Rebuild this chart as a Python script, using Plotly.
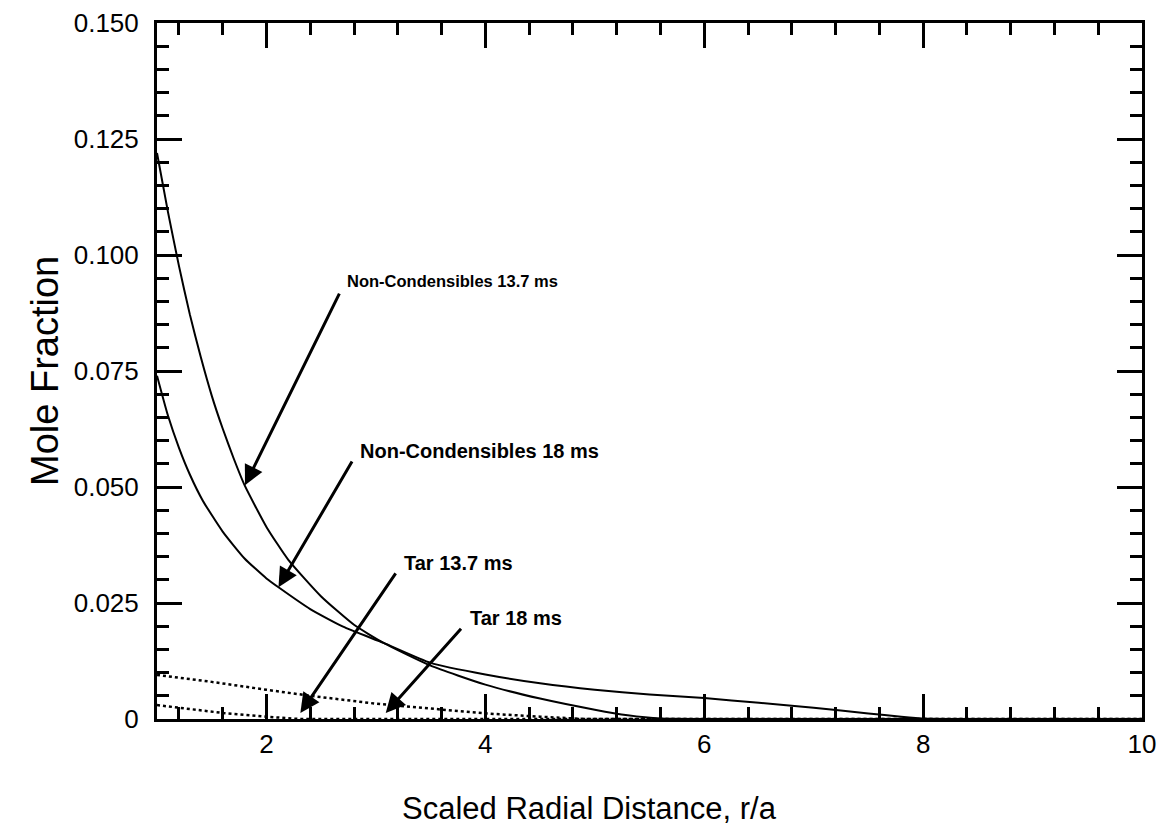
import plotly.graph_objects as go

# ---- data ----
nc137_x = [1.0, 1.1, 1.2, 1.3, 1.4, 1.5, 1.6, 1.7, 1.8, 2.0, 2.2, 2.5, 2.8, 3.07, 3.5, 4.0, 4.5, 5.0, 5.3, 5.6, 6.0, 8.0, 10.0]
nc137_y = [0.122, 0.1093, 0.0977, 0.0872, 0.0780, 0.0697, 0.0626, 0.0562, 0.0504, 0.0414, 0.0343, 0.0264, 0.0203, 0.0164, 0.0115, 0.0074, 0.0044, 0.0020, 0.0008, 0.0001, 0.0, 0.0, 0.0]

nc18_x = [1.0, 1.1, 1.2, 1.3, 1.42, 1.6, 1.8, 2.0, 2.11, 2.4, 2.7, 3.07, 3.5, 4.0, 4.5, 5.0, 5.5, 6.0, 6.5, 7.0, 7.5, 7.8, 8.0, 8.2, 10.0]
nc18_y = [0.074, 0.0654, 0.0585, 0.0527, 0.0470, 0.0404, 0.0346, 0.0303, 0.0284, 0.0237, 0.0199, 0.0164, 0.0121, 0.0096, 0.0077, 0.0063, 0.0053, 0.0045, 0.0035, 0.0024, 0.0012, 0.0005, 0.0001, 0.0, 0.0]

tar137_x = [1.0, 1.3, 1.6, 2.0, 2.3, 3.0, 5.0, 10.0]
tar137_y = [0.0030, 0.0022, 0.0013, 0.0005, 0.0, 0.0, 0.0, 0.0]

tar18_x = [1.0, 1.5, 2.0, 2.4, 3.0, 3.5, 4.0, 4.5, 4.9, 6.0, 10.0]
tar18_y = [0.0095, 0.0080, 0.0063, 0.0050, 0.0033, 0.0022, 0.0012, 0.0005, 0.0, 0.0, 0.0]

y_ticks = [0, 0.025, 0.050, 0.075, 0.100, 0.125, 0.150]
y_tick_text = ["0", "0.025", "0.050", "0.075", "0.100", "0.125", "0.150"]
x_ticks = [2, 4, 6, 8, 10]
x_tick_text = ["2", "4", "6", "8", "10"]

labels = ["Non-Condensibles 13.7 ms", "Non-Condensibles 18 ms", "Tar 13.7 ms", "Tar 18 ms"]
# arrow heads (data) and tails (data)
head_x = [1.804, 2.11, 2.31, 3.09]
head_y = [0.0504, 0.0284, 0.0013, 0.0013]
tail_x = [2.673, 2.79, 3.19, 3.79]
tail_y = [0.0920, 0.0558, 0.0317, 0.0198]
text_x = [2.72, 2.84, 3.24, 3.84]
text_y = [0.0945, 0.0578, 0.0337, 0.0218]
label_size = [16.5, 20, 20, 20]

x_title = "Scaled Radial Distance, r/a"
y_title = "Mole Fraction"

FONT = "Liberation Sans, Arial, Helvetica, sans-serif"

fig = go.Figure()
solid = dict(color="black", width=2)
dotted = dict(color="black", width=2.5, dash="dot")
fig.add_trace(go.Scatter(x=nc137_x, y=nc137_y, mode="lines", line=dict(solid, shape="spline", smoothing=0.5), name=labels[0]))
fig.add_trace(go.Scatter(x=nc18_x, y=nc18_y, mode="lines", line=dict(solid, shape="spline", smoothing=0.5), name=labels[1]))
fig.add_trace(go.Scatter(x=tar137_x, y=tar137_y, mode="lines", line=dotted, name=labels[2]))
fig.add_trace(go.Scatter(x=tar18_x, y=tar18_y, mode="lines", line=dotted, name=labels[3]))

for i, t in enumerate(labels):
    fig.add_annotation(x=head_x[i], y=head_y[i], ax=tail_x[i], ay=tail_y[i], axref="x", ayref="y",
                       xref="x", yref="y", text="", showarrow=True, arrowhead=2, arrowsize=1.3,
                       arrowwidth=3, arrowcolor="black")
    fig.add_annotation(x=text_x[i], y=text_y[i], xref="x", yref="y", text="<b>%s</b>" % t, showarrow=False,
                       xanchor="left", yanchor="middle",
                       font=dict(family=FONT, size=label_size[i], color="black"))

# axis titles
fig.add_annotation(x=0.4386, y=-0.128, xref="paper", yref="paper", text=x_title, showarrow=False,
                   xanchor="center", yanchor="middle", font=dict(family=FONT, size=31, color="black"))
fig.add_annotation(x=-0.1137, y=0.50, xref="paper", yref="paper", text=y_title, showarrow=False,
                   textangle=-90, xanchor="center", yanchor="middle", font=dict(family=FONT, size=38, color="black"))

axis_common = dict(showline=True, linecolor="black", linewidth=3, mirror="ticks", ticks="inside",
                   tickwidth=3, tickcolor="black", ticklen=25, showgrid=False, zeroline=False,
                   tickfont=dict(family=FONT, size=26, color="black"))

fig.update_xaxes(range=[1, 10], tickvals=x_ticks, ticktext=x_tick_text, ticklabelstandoff=0,
                 minor=dict(ticks="inside", dtick=0.4, tick0=0, ticklen=12, tickwidth=3, tickcolor="black"),
                 **axis_common)
fig.update_yaxes(range=[0, 0.150], tickvals=y_ticks, ticktext=y_tick_text, ticklabelstandoff=10,
                 minor=dict(ticks="inside", dtick=0.005, tick0=0, ticklen=12, tickwidth=3, tickcolor="black"),
                 **axis_common)

fig.update_layout(width=1159, height=830, plot_bgcolor="white", paper_bgcolor="white",
                  margin=dict(l=157, r=17, t=23, b=111, autoexpand=False), showlegend=False)

fig.write_html("out.html")
